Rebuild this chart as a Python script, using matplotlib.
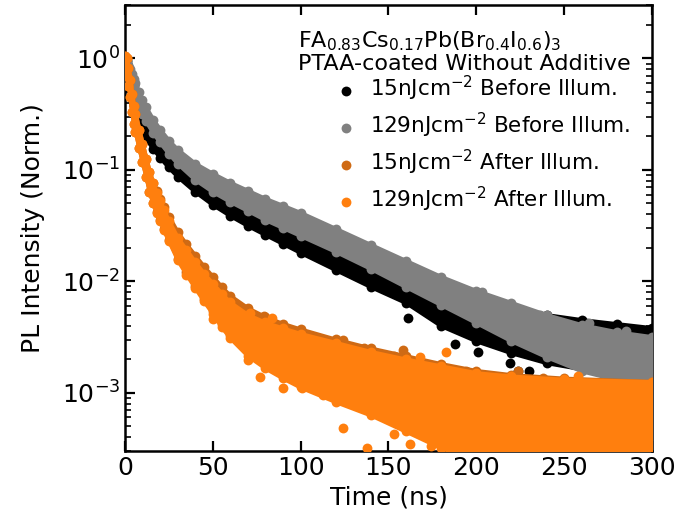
import matplotlib
matplotlib.use("Agg")
import matplotlib.pyplot as plt

# time grids (ns)
t_before = [0, 1, 2, 3, 4, 5, 6, 8, 10, 12, 16, 20, 25, 30, 40, 50, 60, 70, 80, 90,
            100, 120, 140, 160, 180, 200, 220, 240, 260, 280, 300]
t_after = [0, 1, 2, 3, 4, 5, 6, 8, 10, 12, 14, 16, 18, 20, 22, 25, 30, 35, 40, 45,
           50, 55, 60, 70, 80, 90, 100, 120, 140, 160, 180, 200, 220, 250, 300]

# band envelopes of the normalised PL decays
black_hi = [1.04, 0.94, 0.85, 0.75, 0.66, 0.58, 0.515, 0.42, 0.356, 0.301, 0.240, 0.199,
            0.159, 0.132, 0.0986, 0.0769, 0.0625, 0.0519, 0.0440, 0.0373, 0.0323, 0.0237,
            0.0173, 0.0127, 0.00951, 0.00727, 0.00592, 0.00501, 0.00452, 0.00416, 0.00383]
black_lo = [0.92, 0.78, 0.65, 0.54, 0.447, 0.378, 0.327, 0.261, 0.221, 0.191, 0.155, 0.129,
            0.105, 0.0871, 0.0638, 0.0488, 0.0388, 0.0316, 0.0262, 0.0218, 0.0181, 0.0127,
            0.00893, 0.00643, 0.00399, 0.00292, 0.00228, 0.00186, 0.00164, 0.00151, 0.00145]

gray_hi = [1.04, 0.96, 0.88, 0.81, 0.73, 0.66, 0.60, 0.495, 0.42, 0.363, 0.283, 0.230,
           0.183, 0.152, 0.114, 0.0927, 0.0769, 0.0652, 0.0552, 0.0478, 0.0413, 0.0297,
           0.0213, 0.0153, 0.0110, 0.00824, 0.00643, 0.00501, 0.00407, 0.00352, 0.00318]
gray_lo = [0.92, 0.81, 0.72, 0.63, 0.56, 0.495, 0.447, 0.371, 0.314, 0.272, 0.216, 0.176,
           0.140, 0.114, 0.0818, 0.0638, 0.0519, 0.0431, 0.0357, 0.0303, 0.0257, 0.0185,
           0.0130, 0.00893, 0.00616, 0.00425, 0.00292, 0.00210, 0.00157, 0.00131, 0.00113]

dorange_hi = [1.047, 1.0, 0.813, 0.646, 0.479, 0.372, 0.316, 0.229, 0.170, 0.126, 0.0955,
              0.0759, 0.0646, 0.0550, 0.0468, 0.0380, 0.0275, 0.0214, 0.0170, 0.0135,
              0.0110, 0.00891, 0.00741, 0.00575, 0.00479, 0.00417, 0.00372, 0.00302,
              0.00251, 0.00214, 0.00182, 0.00158, 0.00145, 0.00135, 0.00126]
dorange_lo = [0.871, 0.692, 0.562, 0.447, 0.331, 0.257, 0.219, 0.158, 0.117, 0.0871, 0.0631,
              0.0501, 0.0420, 0.0355, 0.0295, 0.0235, 0.0160, 0.0120, 0.0091, 0.0069,
              0.0054, 0.0041, 0.0033, 0.0023, 0.0018, 0.00145, 0.0012, 0.0009, 0.0007,
              0.0005, 0.00035, 0.00025, 0.0002, 0.0002, 0.0002]

orange_hi = [1.047, 1.0, 0.813, 0.646, 0.479, 0.372, 0.316, 0.229, 0.170, 0.126, 0.0955,
             0.0759, 0.0617, 0.0525, 0.0437, 0.0347, 0.0245, 0.0191, 0.0148, 0.0117,
             0.00955, 0.00776, 0.00646, 0.00501, 0.00427, 0.00380, 0.00339, 0.00282,
             0.00234, 0.00200, 0.00174, 0.00151, 0.00141, 0.00132, 0.00126]
orange_lo = [0.871, 0.692, 0.562, 0.447, 0.331, 0.257, 0.219, 0.158, 0.117, 0.0871, 0.0631,
             0.0501, 0.0407, 0.0347, 0.0288, 0.0229, 0.0155, 0.0115, 0.00871, 0.00661,
             0.00513, 0.00389, 0.00309, 0.00214, 0.00166, 0.00135, 0.00112, 0.00083,
             0.00063, 0.00045, 0.00032, 0.00025, 0.0002, 0.0002, 0.0002]

# scattered points outside the dense bands
black_pts_t = [161, 188, 195, 201, 219, 224, 230, 238, 256, 272]
black_pts_y = [0.0047, 0.00275, 0.0078, 0.0023, 0.00186, 0.00158, 0.00158, 0.00204, 0.0011, 0.0012]
gray_pts_t = [167, 203, 236, 264, 285, 290, 296]
gray_pts_y = [0.0125, 0.0080, 0.0050, 0.0042, 0.0036, 0.00118, 0.00115]
dorange_pts_t = [79, 124, 136, 153, 158, 194, 224, 238]
dorange_pts_y = [0.0049, 0.0030, 0.0025, 0.00214, 0.0024, 0.00158, 0.00158, 0.00135]
orange_pts_t = [50, 70, 71, 77, 84, 90, 101, 113, 124, 138, 153, 162, 168, 174, 183, 208, 258, 275]
orange_pts_y = [0.0046, 0.00195, 0.0052, 0.00139, 0.0047, 0.0011, 0.0011, 0.00096, 0.00048,
                0.00032, 0.00043, 0.00035, 0.0021, 0.00033, 0.0023, 0.00135, 0.0014, 0.00098]

series = [
    ("15nJcm$^{-2}$ Before Illum.", "black", t_before, black_lo, black_hi, black_pts_t, black_pts_y),
    ("129nJcm$^{-2}$ Before Illum.", "#808080", t_before, gray_lo, gray_hi, gray_pts_t, gray_pts_y),
    ("15nJcm$^{-2}$ After Illum.", "#cf6a14", t_after, dorange_lo, dorange_hi, dorange_pts_t, dorange_pts_y),
    ("129nJcm$^{-2}$ After Illum.", "#ff7f0e", t_after, orange_lo, orange_hi, orange_pts_t, orange_pts_y),
]

fig = plt.figure(figsize=(6.75, 5.25), dpi=100)
ax = fig.add_axes([0.185, 0.141, 0.781, 0.849])

for i, (label, color, t, lo, hi, pt, py) in enumerate(series):
    ax.fill_between(t, lo, hi, color=color, lw=3, joinstyle="round", zorder=2 + i)
    # dots on the band edges
    ax.scatter(t + t, lo + hi, s=50, color=color, lw=0, zorder=2 + i)
    ax.scatter(pt, py, s=50, color=color, lw=0, label=label, zorder=2 + i)

ax.set_yscale("log")
ax.set_xlim(0, 300)
ax.set_ylim(3e-4, 3)
ax.set_xticks([0, 50, 100, 150, 200, 250, 300])
ax.set_xlabel("Time (ns)", fontsize=18)
ax.set_ylabel("PL Intensity (Norm.)", fontsize=18, labelpad=12)

ax.tick_params(which="both", direction="in", top=True, right=True, labelsize=18)
ax.tick_params(which="major", length=7, width=1.6)
ax.tick_params(which="minor", length=4, width=1.2)
for sp in ax.spines.values():
    sp.set_linewidth(1.8)

leg = ax.legend(title="FA$_{0.83}$Cs$_{0.17}$Pb(Br$_{0.4}$I$_{0.6}$)$_3$\nPTAA-coated Without Additive",
                loc="upper right", bbox_to_anchor=(0.992, 0.984), frameon=False,
                fontsize=15.5, title_fontsize=16, handletextpad=0.15, labelspacing=0.36,
                borderaxespad=0.4, borderpad=0.4, alignment="right")
leg.get_title().set_linespacing(1.05)
leg._legend_box.sep = 0

fig.savefig("out.png", dpi=100)
